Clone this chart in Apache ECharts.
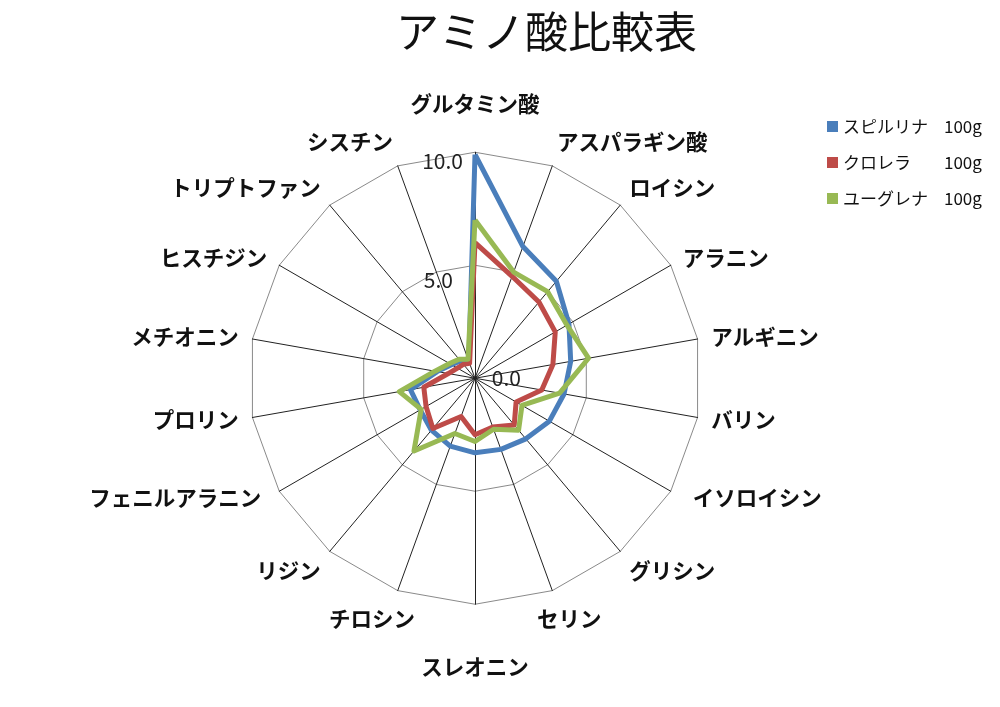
<!DOCTYPE html>
<html>
<head>
<meta charset="utf-8">
<title>アミノ酸比較表</title>
<script src="https://cdn.jsdelivr.net/npm/echarts@6/dist/echarts.min.js"></script>
<style>
  html, body { margin: 0; padding: 0; background: #fff; }
  #chart { width: 1000px; height: 707px; }
</style>
</head>
<body>
<div id="chart"></div>
<script>
// アミノ酸（上から時計回り）
const aminoAcids = [
  'グルタミン酸', 'アスパラギン酸', 'ロイシン', 'アラニン', 'アルギニン', 'バリン',
  'イソロイシン', 'グリシン', 'セリン', 'スレオニン', 'チロシン', 'リジン',
  'フェニルアラニン', 'プロリン', 'メチオニン', 'ヒスチジン', 'トリプトファン', 'シスチン'
];
const spirulina = [9.9, 6.2, 5.6, 4.8, 4.3, 4.0, 3.8, 3.5, 3.35, 3.3, 3.2, 3.0, 2.8, 2.9, 1.7, 1.2, 1.0, 0.8];
const chlorella = [6.0, 4.8, 4.4, 4.1, 3.5, 3.0, 2.1, 2.7, 2.3, 2.5, 1.8, 2.9, 2.5, 2.3, 1.2, 0.9, 0.8, 0.7];
const euglena   = [7.0, 5.0, 5.0, 4.7, 5.1, 3.8, 2.4, 3.0, 2.4, 2.8, 2.6, 4.2, 2.75, 3.4, 1.8, 1.3, 1.1, 0.9];
const seriesNames = ['スピルリナ', 'クロレラ', 'ユーグレナ'];
const amountLabel = '100g';
const scaleMax = 10;
const scaleStep = 5;

const FONT = '"Noto Sans CJK JP", "Noto Sans", sans-serif';
const colors = ['#4a7ebb', '#be4b48', '#98b954'];

// ECharts の radar は反時計回りなので並べ替える
const order = aminoAcids.map((_, i) => (aminoAcids.length - i) % aminoAcids.length);
const pick = arr => order.map(i => arr[i]);

// 軸名の位置調整（Excel 風の配置に寄せる）
const nameStyle = {
  'グルタミン酸': 'top',
  'アスパラギン酸': 'up2', 'シスチン': 'up2',
  'ロイシン': 'up1', 'トリプトファン': 'up1',
  'イソロイシン': 'rgt', 'フェニルアラニン': 'lft',
  'グリシン': 'dn1', 'リジン': 'dn1',
  'セリン': 'dnR', 'チロシン': 'dnL',
  'スレオニン': 'bottom'
};
const nameRich = {
  n: {},
  top: { padding: [0, 0, 24, 0] },
  up2: { padding: [0, 0, 22, 0] },
  up1: { padding: [0, 0, 14, 0] },
  rgt: { padding: [0, 0, 0, 10] },
  lft: { padding: [0, 6, 0, 0] },
  dn1: { padding: [18, 0, 0, 0] },
  dnR: { padding: [30, 0, 0, -20] },
  dnL: { padding: [30, -22, 0, 0] },
  bottom: { padding: [38, 0, 0, 0] }
};

const chart = echarts.init(document.getElementById('chart'));

chart.setOption({
  backgroundColor: '#fff',
  color: colors,
  title: {
    text: 'アミノ酸比較表',
    left: 391,
    top: 5,
    textStyle: { fontFamily: FONT, fontSize: 43, fontWeight: 'normal', color: '#111' }
  },
  legend: {
    orient: 'vertical',
    left: 822,
    top: 113,
    icon: 'rect',
    itemWidth: 11,
    itemHeight: 11,
    itemGap: 19,
    data: seriesNames,
    formatter: name => `{n|${name}}{v|${amountLabel}}`,
    textStyle: {
      fontFamily: FONT,
      fontSize: 17,
      color: '#111',
      rich: {
        n: { width: 101, fontSize: 17, fontFamily: FONT, color: '#111' },
        v: { fontSize: 17, fontFamily: FONT, color: '#111' }
      }
    }
  },
  radar: {
    center: ['47.5%', '53.5%'],
    radius: 226,
    startAngle: 90,
    shape: 'polygon',
    splitNumber: scaleMax / scaleStep,
    nameGap: 14,
    indicator: pick(aminoAcids).map(name => ({ name, min: 0, max: scaleMax })),
    axisName: {
      color: '#111',
      fontFamily: FONT,
      fontSize: 21.5,
      fontWeight: 'bold',
      formatter: name => `{${nameStyle[name] || 'n'}|${name}}`,
      rich: nameRich
    },
    axisLine: { lineStyle: { color: '#222', width: 1 } },
    splitLine: { lineStyle: { color: '#8a8a8a', width: 1 } },
    splitArea: { show: false }
  },
  // 目盛ラベル（0.0 / 5.0 / 10.0）は同じ位置の極座標の半径軸で描く
  polar: {
    center: ['47.5%', '53.5%'],
    radius: 226
  },
  angleAxis: { show: false, startAngle: 90, min: 0, max: 360 },
  radiusAxis: {
    min: 0,
    max: scaleMax,
    interval: scaleStep,
    axisLine: { show: false },
    axisTick: { show: false },
    splitLine: { show: false },
    splitArea: { show: false },
    axisLabel: {
      margin: -46,
      fontFamily: FONT,
      fontSize: 21,
      color: '#222',
      formatter: v => {
        const key = v === 0 ? 'z' : (v === scaleMax ? 'a' : 'b');
        return `{${key}|${v.toFixed(1)}}`;
      },
      rich: {
        z: { fontSize: 21, fontFamily: FONT, color: '#222' },
        b: { fontSize: 21, fontFamily: FONT, color: '#222', padding: [30, 68, 0, 0] },
        a: { fontSize: 21, fontFamily: FONT, color: '#222', padding: [18, 58, 0, 0] }
      }
    }
  },
  series: [{
    type: 'radar',
    symbol: 'none',
    lineStyle: { width: 5 },
    data: [
      { name: seriesNames[0], value: pick(spirulina), lineStyle: { color: colors[0], width: 5 }, itemStyle: { color: colors[0] } },
      { name: seriesNames[1], value: pick(chlorella), lineStyle: { color: colors[1], width: 5 }, itemStyle: { color: colors[1] } },
      { name: seriesNames[2], value: pick(euglena), lineStyle: { color: colors[2], width: 5 }, itemStyle: { color: colors[2] } }
    ]
  }]
});
</script>
</body>
</html>
